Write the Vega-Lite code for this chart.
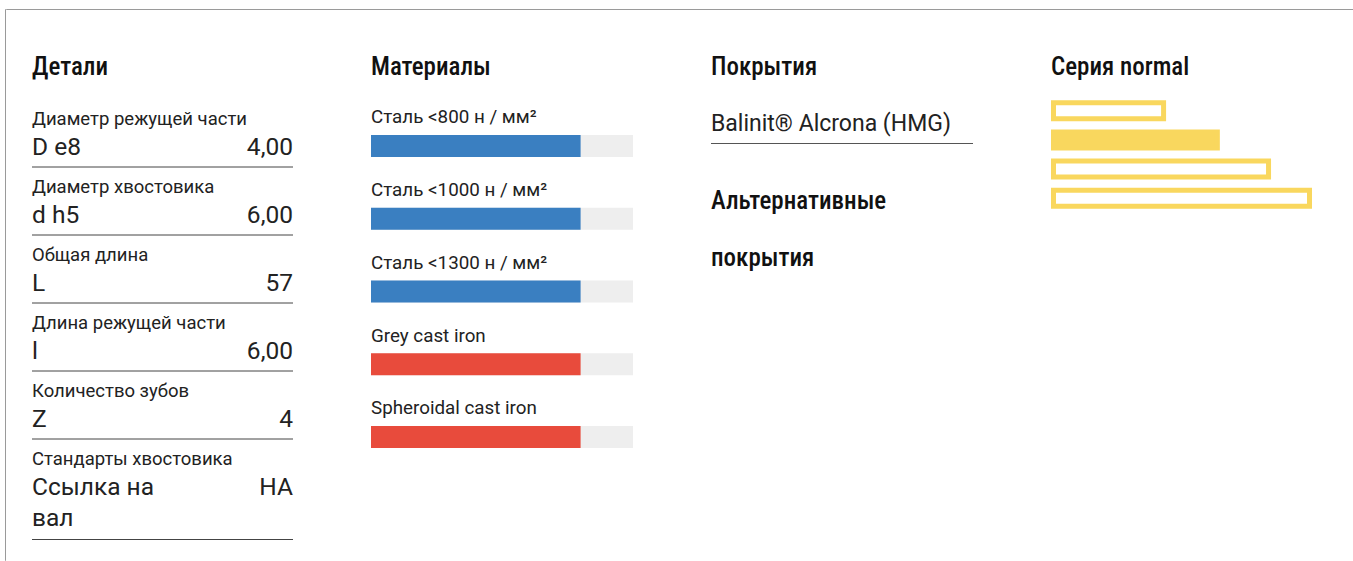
{
  "$schema": "https://vega.github.io/schema/vega-lite/v6.json",
  "background": "white",
  "padding": {"left": 4, "top": 8, "right": 0, "bottom": 0},
  "autosize": {"type": "pad"},
  "config": {
    "view": {"stroke": null},
    "font": "Roboto",
    "title": {"font": "Roboto Condensed, Liberation Sans Narrow, DejaVu Sans Condensed, sans-serif", "fontSize": 25, "fontWeight": 500, "color": "#111111", "anchor": "start", "frame": "group", "baseline": "alphabetic", "offset": 19},
    "text": {"font": "Roboto", "color": "#222222"}
  },
  "spacing": 0,
  "bounds": "flush",
  "hconcat": [
    {"width": 0.01, "height": 551, "data": {"values": []}, "mark": "point", "view": {"stroke": "#9a9a9a"}},
    {
      "spacing": 89,
      "bounds": "flush",
      "vconcat": [
        {"width": 1348, "height": 0.01, "data": {"values": []}, "mark": "point", "view": {"stroke": "#9a9a9a"}},
        {
          "spacing": 25,
          "bounds": "flush",
          "hconcat": [
            {"width": 0.01, "height": 0.01, "data": {"values": []}, "mark": "point"},
            {
              "spacing": 78,
              "bounds": "flush",
              "hconcat": [
                {
                  "title": "Детали",
                  "width": 261,
                  "height": 408,
                  "data": {"values": [
                    {"label": "Диаметр режущей части", "symbol": "D e8", "value": "4,00"},
                    {"label": "Диаметр хвостовика", "symbol": "d h5", "value": "6,00"},
                    {"label": "Общая длина", "symbol": "L", "value": "57"},
                    {"label": "Длина режущей части", "symbol": "l", "value": "6,00"},
                    {"label": "Количество зубов", "symbol": "Z", "value": "4"},
                    {"label": "Стандарты хвостовика", "symbol": "Ссылка на\nвал", "value": "НА"}
                  ]},
                  "encoding": {"y": {"field": "label", "type": "nominal", "sort": null, "axis": null, "scale": {"paddingInner": 0, "paddingOuter": 0}}},
                  "layer": [
                    {"mark": {"type": "text", "align": "left", "baseline": "alphabetic", "dy": -8, "fontSize": 18.5}, "encoding": {"x": {"value": 0}, "text": {"field": "label"}}},
                    {"mark": {"type": "text", "align": "left", "baseline": "alphabetic", "dy": 21.5, "fontSize": 24.5, "lineBreak": "\n", "lineHeight": 31}, "encoding": {"x": {"value": 0}, "text": {"field": "symbol"}}},
                    {"mark": {"type": "text", "align": "right", "baseline": "alphabetic", "dy": 21.5, "fontSize": 24.5}, "encoding": {"x": {"value": "width"}, "text": {"field": "value"}}},
                    {"transform": [{"filter": "datum.label != 'Стандарты хвостовика'"}], "mark": {"type": "rule", "color": "#444444", "yOffset": 34}, "encoding": {}},
                    {"transform": [{"filter": "datum.label == 'Стандарты хвостовика'"}], "mark": {"type": "rule", "color": "#444444", "yOffset": 66.5}, "encoding": {}}
                  ]
                },
                {
                  "title": "Материалы",
                  "width": 262,
                  "height": 385,
                  "data": {"values": [
                    {"material": "Сталь <800 н / мм²", "group": "Сталь", "rating": 80},
                    {"material": "Сталь <1000 н / мм²", "group": "Сталь", "rating": 80},
                    {"material": "Сталь <1300 н / мм²", "group": "Сталь", "rating": 80},
                    {"material": "Grey cast iron", "group": "Cast iron", "rating": 80},
                    {"material": "Spheroidal cast iron", "group": "Cast iron", "rating": 80}
                  ]},
                  "encoding": {"y": {"field": "material", "type": "nominal", "sort": null, "axis": null, "scale": {"paddingInner": 0.6976, "paddingOuter": 0.495}}},
                  "layer": [
                    {"mark": {"type": "bar", "color": "#eeeeee"}, "encoding": {"x": {"datum": 100, "type": "quantitative", "axis": null, "scale": {"domain": [0, 100]}}}},
                    {"mark": {"type": "bar"}, "encoding": {"x": {"field": "rating", "type": "quantitative", "axis": null}, "color": {"field": "group", "type": "nominal", "legend": null, "scale": {"domain": ["Сталь", "Cast iron"], "range": ["#3a7fc1", "#e84b3c"]}}}},
                    {"mark": {"type": "text", "align": "left", "baseline": "alphabetic", "dy": -22.7, "fontSize": 18.8}, "encoding": {"x": {"value": 0}, "text": {"field": "material"}}}
                  ]
                },
                {
                  "title": "Покрытия",
                  "width": 262,
                  "height": 176,
                  "data": {"values": [
                    {"section": "Покрытия", "coating": "Balinit® Alcrona (HMG)"},
                    {"section": "Альтернативные покрытия", "coating": null}
                  ]},
                  "encoding": {"y": {"field": "section", "type": "nominal", "sort": null, "axis": null, "scale": {"domain": ["Покрытия", "Альтернативные покрытия"], "paddingInner": 0, "paddingOuter": 0}}},
                  "layer": [
                    {"transform": [{"filter": "datum.coating != null"}], "mark": {"type": "text", "align": "left", "baseline": "alphabetic", "dy": -12.5, "fontSize": 23}, "encoding": {"x": {"value": 0}, "text": {"field": "coating"}}},
                    {"transform": [{"filter": "datum.coating != null"}], "mark": {"type": "rule", "color": "#555555", "yOffset": 0.5}, "encoding": {}},
                    {"transform": [{"filter": "datum.coating == null"}], "mark": {"type": "text", "align": "left", "baseline": "alphabetic", "dy": -21.7, "lineBreak": " ", "lineHeight": 57, "font": "Roboto Condensed, Liberation Sans Narrow, DejaVu Sans Condensed, sans-serif", "fontSize": 25, "fontWeight": 500, "color": "#111111"}, "encoding": {"x": {"value": 0}, "text": {"field": "section"}}}
                  ]
                },
                {
                  "title": "Серия normal",
                  "width": 256,
                  "height": 111,
                  "data": {"values": [
                    {"series": "short", "length": 43},
                    {"series": "normal", "length": 64},
                    {"series": "long", "length": 84},
                    {"series": "extra long", "length": 100}
                  ]},
                  "mark": {"type": "bar", "stroke": "#f9d75e", "strokeWidth": 5, "xOffset": 2.5},
                  "encoding": {
                    "y": {"field": "series", "type": "nominal", "sort": null, "axis": null, "scale": {"paddingInner": 0.45, "paddingOuter": 0.13}},
                    "x": {"field": "length", "type": "quantitative", "axis": null, "scale": {"domain": [0, 100]}},
                    "fill": {"condition": {"test": "datum.series == 'normal'", "value": "#f9d75e"}, "value": "#ffffff"}
                  }
                }
              ]
            }
          ]
        }
      ]
    }
  ]
}
